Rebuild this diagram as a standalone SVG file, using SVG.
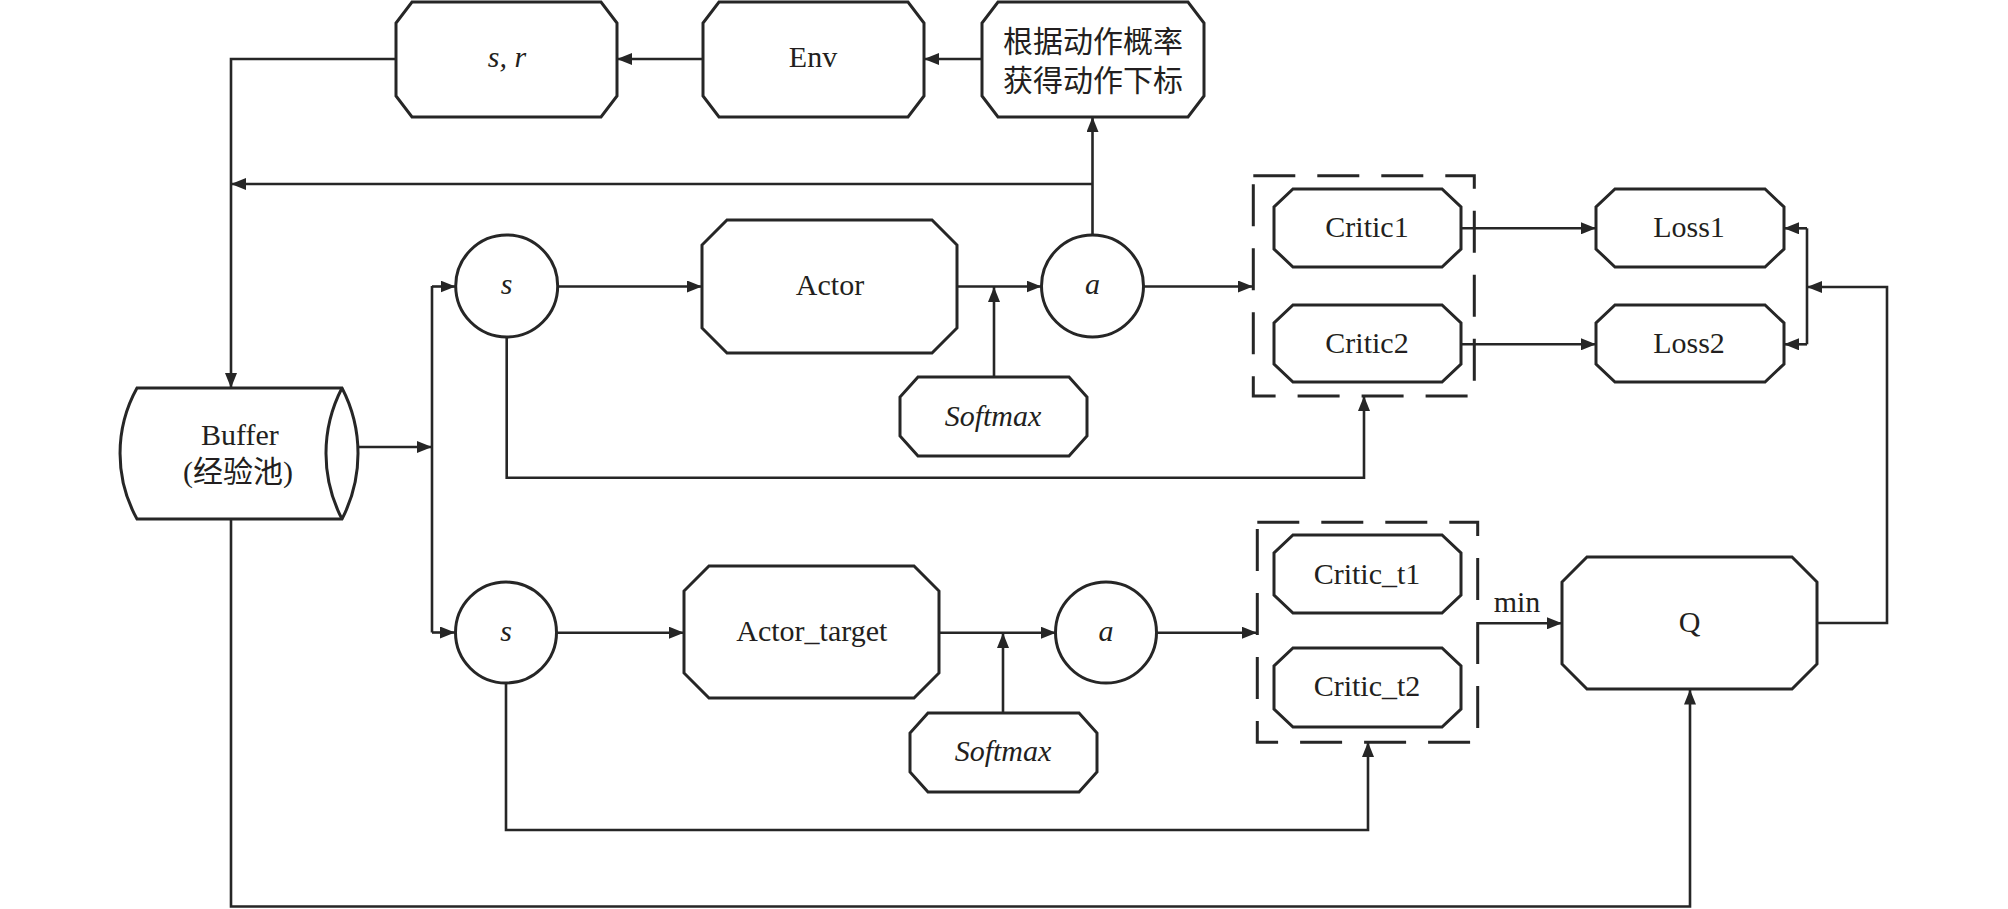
<svg xmlns="http://www.w3.org/2000/svg" width="2008" height="909" viewBox="0 0 2008 909">
<defs>
<marker id="ah" viewBox="0 0 15 12" refX="15" refY="6" markerWidth="15" markerHeight="12" markerUnits="userSpaceOnUse" orient="auto">
<path d="M0,0 L15,6 L0,12 z" fill="#262626"/>
</marker>
</defs>
<style>
.n{fill:#fff;stroke:#262626;stroke-width:3;stroke-linejoin:miter}
.c{fill:none;stroke:#262626;stroke-width:2.6}
.a{marker-end:url(#ah)}
.d{fill:none;stroke:#262626;stroke-width:3;stroke-dasharray:42 22}
text{font-family:"Liberation Serif","Times New Roman",serif;font-size:30px;fill:#231f20;text-anchor:middle}
.i{font-style:italic}
.zh{font-family:"Liberation Serif","Noto Sans CJK SC",serif;font-size:30px}
</style>
<rect width="2008" height="909" fill="#fff"/>
<g id="connectors">
<polyline class="c a" points="982,59 924,59"/>
<polyline class="c a" points="703,59 617,59"/>
<polyline class="c a" points="396,59 231,59 231,388"/>
<polyline class="c a" points="1092.5,235 1092.5,117"/>
<polyline class="c a" points="1092.5,184 231,184"/>
<polyline class="c a" points="358,447 432,447"/>
<polyline class="c" points="432,286 432,632.5"/>
<polyline class="c a" points="432,286.5 455.5,286.5"/>
<polyline class="c a" points="432,632.5 455,632.5"/>
<polyline class="c a" points="558,286.5 702,286.5"/>
<polyline class="c a" points="957,286.5 1041.5,286.5"/>
<polyline class="c a" points="994,377 994,287"/>
<polyline class="c a" points="1143.5,286.5 1253,286.5"/>
<polyline class="c a" points="506.7,337 506.7,477.7 1364,477.7 1364,396"/>
<polyline class="c a" points="1461,228.3 1596,228.3"/>
<polyline class="c a" points="1461,344.3 1596,344.3"/>
<polyline class="c a" points="1817,623 1887,623 1887,287 1807,287"/>
<polyline class="c" points="1807,228.3 1807,344.3"/>
<polyline class="c a" points="1807,228.3 1784,228.3"/>
<polyline class="c a" points="1807,344.3 1784,344.3"/>
<polyline class="c a" points="556,632.7 684,632.7"/>
<polyline class="c a" points="939,632.7 1056,632.7"/>
<polyline class="c a" points="1003,713 1003,633"/>
<polyline class="c a" points="1156,632.7 1257,632.7"/>
<polyline class="c a" points="506,683.5 506,830 1368,830 1368,742"/>
<polyline class="c a" points="1478,623.3 1562,623.3"/>
<polyline class="c a" points="231,519 231,906.5 1690,906.5 1690,689.5"/>
<text x="1517" y="612" font-size="28">min</text>
</g>
<g id="sr">
<polygon class="n" points="412,2 601,2 617,23 617,96 601,117 412,117 396,96 396,23"/>
<text class="i" x="507" y="67">s, r</text>
</g>
<g id="env">
<polygon class="n" points="719,2 908,2 924,23 924,96 908,117 719,117 703,96 703,23"/>
<text x="813" y="67">Env</text>
</g>
<g id="select">
<polygon class="n" points="998,2 1188,2 1204,23 1204,96 1188,117 998,117 982,96 982,23"/>
<text class="zh" x="1093" y="52">根据动作概率</text>
<text class="zh" x="1093" y="91">获得动作下标</text>
</g>
<g id="buffer">
<path class="n" d="M137,388 L342,388 A142,142 0 0 1 342,519 L137,519 A135,135 0 0 1 137,388 Z"/>
<path class="n" fill="none" d="M342,388 A142,142 0 0 0 342,519"/>
<text x="240" y="445">Buffer</text>
<text class="zh" x="238" y="482">(经验池)</text>
</g>
<g id="s1">
<circle class="n" cx="506.7" cy="286" r="51"/>
<text class="i" x="506.7" y="294">s</text>
</g>
<g id="actor">
<polygon class="n" points="727,220 932,220 957,245 957,328 932,353 727,353 702,328 702,245"/>
<text x="830" y="295">Actor</text>
</g>
<g id="a1">
<circle class="n" cx="1092.5" cy="286" r="51"/>
<text class="i" x="1092.5" y="294">a</text>
</g>
<g id="softmax1">
<polygon class="n" points="918,377 1069,377 1087,397 1087,436 1069,456 918,456 900,436 900,397"/>
<text class="i" x="993" y="426">Softmax</text>
</g>
<g id="critics">
<rect class="d" x="1253.3" y="175.7" width="221" height="220.3"/>
</g>
<g id="critic1">
<polygon class="n" points="1293,189 1442,189 1461,207 1461,249 1442,267 1293,267 1274,249 1274,207"/>
<text x="1367" y="237">Critic1</text>
</g>
<g id="critic2">
<polygon class="n" points="1293,305 1442,305 1461,323 1461,364 1442,382 1293,382 1274,364 1274,323"/>
<text x="1367" y="353">Critic2</text>
</g>
<g id="loss1">
<polygon class="n" points="1615,189 1765,189 1784,207 1784,249 1765,267 1615,267 1596,249 1596,207"/>
<text x="1689" y="237">Loss1</text>
</g>
<g id="loss2">
<polygon class="n" points="1615,305 1765,305 1784,323 1784,364 1765,382 1615,382 1596,364 1596,323"/>
<text x="1689" y="353">Loss2</text>
</g>
<g id="s2">
<circle class="n" cx="506" cy="632.5" r="50.5"/>
<text class="i" x="506" y="641">s</text>
</g>
<g id="actor_target">
<polygon class="n" points="709,566 914,566 939,591 939,673 914,698 709,698 684,673 684,591"/>
<text x="811.8" y="641">Actor_target</text>
</g>
<g id="a2">
<circle class="n" cx="1106" cy="632.5" r="50.5"/>
<text class="i" x="1106" y="641">a</text>
</g>
<g id="softmax2">
<polygon class="n" points="928,713 1079,713 1097,733 1097,772 1079,792 928,792 910,772 910,733"/>
<text class="i" x="1003" y="761">Softmax</text>
</g>
<g id="critics_t">
<rect class="d" x="1257.3" y="522.3" width="220.4" height="220"/>
</g>
<g id="critic_t1">
<polygon class="n" points="1293,535 1442,535 1461,553 1461,595 1442,613 1293,613 1274,595 1274,553"/>
<text x="1367" y="584">Critic_t1</text>
</g>
<g id="critic_t2">
<polygon class="n" points="1293,648 1442,648 1461,666 1461,709 1442,727 1293,727 1274,709 1274,666"/>
<text x="1367" y="696">Critic_t2</text>
</g>
<g id="q">
<polygon class="n" points="1587,557 1792,557 1817,582 1817,664 1792,689 1587,689 1562,664 1562,582"/>
<text x="1689.5" y="632">Q</text>
</g>
</svg>
